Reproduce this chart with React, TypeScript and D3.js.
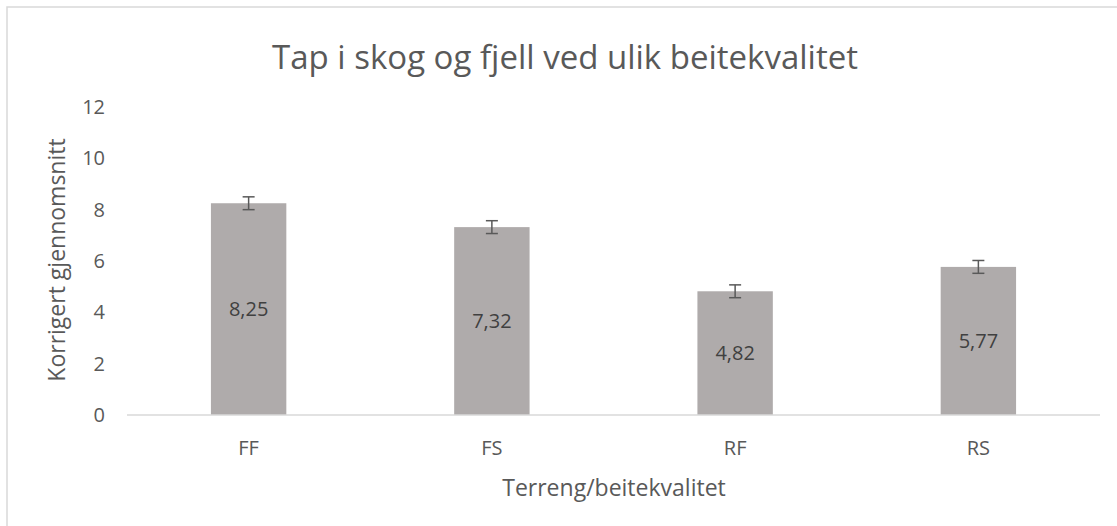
import React from "react";
import * as d3 from "d3";

const categories = ["FF", "FS", "RF", "RS"];
const values = [8.25, 7.32, 4.82, 5.77];
const errors = [0.25, 0.25, 0.25, 0.25];
const yTicks = [0, 2, 4, 6, 8, 10, 12];
const title = "Tap i skog og fjell ved ulik beitekvalitet";
const xTitle = "Terreng/beitekvalitet";
const yTitle = "Korrigert gjennomsnitt";

const W = 1117;
const H = 526;
const FONT = "'Open Sans', 'Noto Sans', sans-serif";

export default function App() {
  const x = d3.scaleBand<string>().domain(categories).range([127, 1100]).paddingInner(0.69).paddingOuter(0.345);
  const y = d3.scaleLinear().domain([0, 12]).range([415, 107]);
  const bw = x.bandwidth();
  return (
    <svg width={W} height={H} style={{ position: "absolute", left: 0, top: 0, background: "#fff" }} fontFamily={FONT}>
      <rect x={7} y={7} width={W + 10} height={H + 10} fill="#fff" stroke="#d9d9d9" strokeWidth={1.5} />
      <text x={565} y={69} textAnchor="middle" fontSize={33} fill="#595959">{title}</text>
      {yTicks.map((t) => (
        <text key={t} x={105} y={y(t)} dy="0.35em" textAnchor="end" fontSize={20} fill="#595959">{t}</text>
      ))}
      {categories.map((c, i) => {
        const cx = (x(c) as number) + bw / 2;
        const v = values[i];
        const e = errors[i];
        return (
          <g key={c}>
            <rect x={x(c)} y={y(v)} width={bw} height={y(0) - y(v)} fill="#AFABAB" />
            <text x={cx} y={(y(v) + y(0)) / 2} dy="0.35em" textAnchor="middle" fontSize={20} fill="#404040">
              {v.toFixed(2).replace(".", ",")}
            </text>
            <g stroke="#595959" strokeWidth={1.5}>
              <line x1={cx} x2={cx} y1={y(v + e)} y2={y(v - e)} />
              <line x1={cx - 6} x2={cx + 6} y1={y(v + e)} y2={y(v + e)} />
              <line x1={cx - 6} x2={cx + 6} y1={y(v - e)} y2={y(v - e)} />
            </g>
            <text x={cx} y={448} dy="0.35em" textAnchor="middle" fontSize={20} fill="#595959">{c}</text>
          </g>
        );
      })}
      <line x1={127} x2={1100} y1={y(0)} y2={y(0)} stroke="#d9d9d9" strokeWidth={1.5} />
      <text x={614} y={488} dy="0.35em" textAnchor="middle" fontSize={23} fill="#595959">{xTitle}</text>
      <text transform={`translate(57,260) rotate(-90)`} dy="0.35em" textAnchor="middle" fontSize={23} fill="#595959">{yTitle}</text>
    </svg>
  );
}
